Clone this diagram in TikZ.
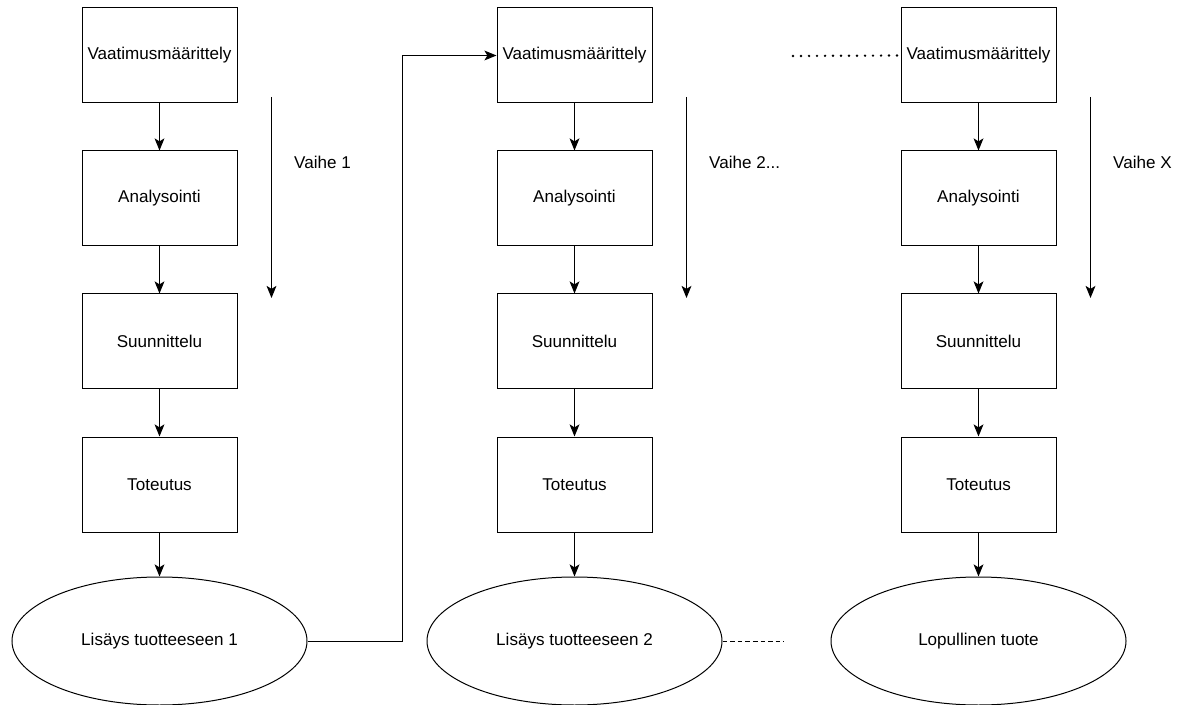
\documentclass[tikz,border=0pt]{standalone}
\usepackage{fontspec}
\setmainfont{Liberation Sans}
\usetikzlibrary{arrows.meta,positioning,shapes.geometric}

\begin{document}
\begin{tikzpicture}[x=0.75pt, y=-0.75pt, every node/.style={font=\fontsize{12.8}{15}\selectfont}, >={Stealth[length=3.2mm, width=2.6mm, inset=0.8mm]}, node distance=35.25pt,
	box/.style={draw, line width=0.75pt, minimum width=116.25pt, minimum height=71.25pt, inner sep=2pt},
	result/.style={draw, ellipse, line width=0.75pt, minimum width=221.25pt, minimum height=96pt, inner sep=0pt},
	link/.style={draw, line width=0.75pt}]
	\useasboundingbox (0,0) rectangle (1180,705);
	\foreach \c/\x/\res/\ph in {a/159.5/Lisäys tuotteeseen 1/Vaihe 1, b/574.5/Lisäys tuotteeseen 2/Vaihe 2.{}.{}., c/978.5/Lopullinen tuote/Vaihe X} {
		\node[box] (\c1) at (\x,55.5) {Vaatimusmäärittely};
		\node[box, below=of \c1] (\c2) {Analysointi};
		\node[box, below=of \c2] (\c3) {Suunnittelu};
		\node[box, below=of \c3] (\c4) {Toteutus};
		\node[result, below=33pt of \c4] (\c5) {\res};
		\foreach \i/\j in {1/2,2/3,3/4,4/5} {\draw[link, ->] (\c\i) -- (\c\j);}
		% phase arrow beside the column
		\coordinate (\c top) at (\x+112,97);
		\coordinate (\c bot) at (\x+112,298);
		\draw[link, ->] (\c top) -- (\c bot);
		\node[anchor=west] (\c ph) at (\x+130,162) {\ph};
	}
	\draw[link, ->] (a5.east) -- ++(95,0) |- (b1.west);
	\coordinate (dotstart) at (793,56);
	\draw[line width=2pt, line cap=round, dash pattern=on 0pt off 6pt] (dotstart) -- (c1.west);
	\draw[line width=0.75pt, dash pattern=on 3.5pt off 2.2pt] (b5.east) -- ++(61,0) coordinate (dashend);
\end{tikzpicture}
\end{document}
